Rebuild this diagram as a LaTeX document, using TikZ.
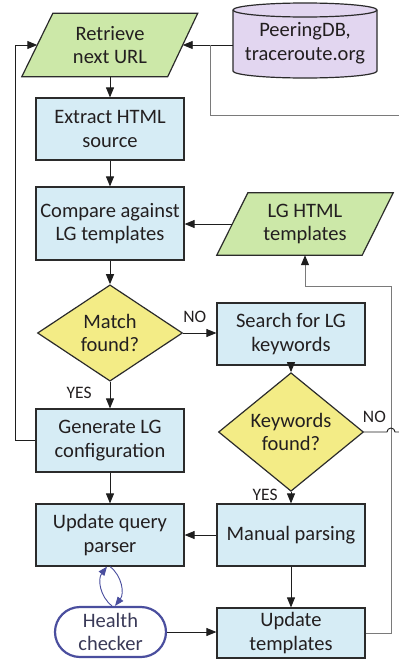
\documentclass[tikz,border=0pt]{standalone}
\usepackage{fontspec}
\setmainfont{Carlito}
\usetikzlibrary{shapes.geometric,arrows.meta,backgrounds}
\definecolor{boxblue}{HTML}{D6ECF5}
\definecolor{paragreen}{HTML}{CCE8A8}
\definecolor{decyellow}{HTML}{F3EC86}
\definecolor{dblilac}{HTML}{E2D6F0}
\definecolor{edge}{HTML}{2B2B2B}
\definecolor{wire}{HTML}{1E1E1E}
\definecolor{greywire}{HTML}{7A7A7A}
\definecolor{hcblue}{HTML}{4A4E9E}
\definecolor{hctext}{HTML}{3A3A58}
\definecolor{txt}{HTML}{231F20}

\begin{document}
\begin{tikzpicture}[x=1pt,y=-1pt,
  every node/.style={font=\fontsize{20.5}{23.5}\selectfont, text=txt, align=center},
  procbox/.style={draw=edge, line width=1.2pt, fill=boxblue, minimum width=148pt,
    minimum height=62pt, inner sep=0pt},
  iobox/.style={minimum width=145pt, minimum height=63pt, inner sep=0pt},
  iofill/.style={draw=edge, line width=1.2pt, fill=paragreen},
  decision/.style={diamond, draw=edge, line width=1.2pt, fill=decyellow,
    minimum width=145pt, minimum height=91pt, inner sep=0pt},
  tip/.style={-{Triangle[length=10pt,width=8pt,color=wire]}},
  flow/.style={draw=wire, line width=0.9pt, tip},
  link/.style={draw=wire, line width=0.9pt},
  greylink/.style={draw=greywire, line width=0.9pt},
  tag/.style={font=\fontsize{17.5}{19}\selectfont, inner sep=0pt},
  loopflow/.style={draw=hcblue, line width=0.9pt,
    -{Triangle[length=9pt,width=7pt,color=hcblue]}},
  hcbox/.style={draw=hcblue, line width=2.2pt, fill=white, rounded corners=25pt,
    minimum width=111pt, minimum height=50pt, inner sep=0pt, text=hctext}
]
\useasboundingbox (0,0) rectangle (399,659);

% ---- nodes ----
\node[iobox] (ret) at (110,45) {Retrieve\\next URL};
\node[minimum width=144pt, minimum height=75pt, inner sep=0pt] (db) at (305,43) {PeeringDB,\\traceroute.org};
\node[procbox] (ext) at (110,129) {Extract HTML\\source};
\node[procbox, minimum height=73pt] (cmp) at (110,223.5) {Compare against\\LG templates};
\node[iobox, minimum height=62pt] (lgt) at (305,224) {LG HTML\\templates};
\node[decision] (mat) at (110,333) {Match\\found?};
\node[procbox] (srch) at (291,334) {Search for LG\\keywords};
\node[decision] (kw) at (291,432) {Keywords\\found?};
\node[procbox, minimum height=63pt] (gen) at (110,440.5) {Generate LG\\configuration};
\node[procbox] (upq) at (110,535) {Update query\\parser};
\node[procbox] (man) at (291,535) {Manual parsing};
\node[hcbox] (hc) at (110.5,632) {Health\\checker};
\node[procbox, minimum height=50pt] (upt) at (291,633) {Update\\templates};

% ---- parallelogram and cylinder outlines behind the text ----
\begin{pgfonlayer}{background}
  \filldraw[iofill] ([xshift=15.5pt]ret.north west) -- ([xshift=15pt]ret.north east)
    -- ([xshift=-15pt]ret.south east) -- ([xshift=-15.5pt]ret.south west) -- cycle;
  \filldraw[iofill] ([xshift=15.5pt]lgt.north west) -- ([xshift=15.5pt]lgt.north east)
    -- ([xshift=-15.5pt]lgt.south east) -- ([xshift=-15.5pt]lgt.south west) -- cycle;
  \filldraw[draw=edge, line width=1.2pt, fill=dblilac]
    (233,10) -- (233,71) arc[start angle=180,end angle=360,x radius=72pt,y radius=7pt]
    -- (377,10) arc[start angle=0,end angle=180,x radius=72pt,y radius=7pt] -- cycle;
  \draw[draw=edge, line width=1.2pt]
    (233,10) arc[start angle=180,end angle=360,x radius=72pt,y radius=7pt];
\end{pgfonlayer}

% ---- free ends at the right margin ----
\coordinate (netin) at (399,115);
\coordinate (kwexit) at (399,432);

% ---- connectors ----
\draw[flow] (ret) -- (ext);
\draw[flow] (ext) -- (cmp);
\draw[flow] (cmp) -- (mat);
\draw[flow] (mat) -- node[tag, pos=0.41, left=18pt] {YES} (gen);
\draw[flow] (mat.east) -- node[tag, pos=0.35, above=10pt] {NO} (mat.east -| srch.west);
\draw[flow] (srch) -- (kw);
\draw[flow] (kw) -- node[tag, pos=0.24, left=13pt] {YES} (man);
\draw[flow] (gen) -- (upq);
\draw[flow] (man) -- (upq);
\draw[flow] (man) -- (upt);
\draw[flow] (hc.east) -- (hc.east -| upt.west);
\draw[flow] (lgt.west) -- (lgt.west -| cmp.east);
\draw[flow] (ret.east -| db.west) -- (ret.east);
\draw[flow] (gen.west) -- (15,440.5) -- (15,45) -- (ret.west);
\draw[greylink] (netin) -- (210,115) -- (210,45);
\draw[greylink, tip] (upt.east) -- (391,633) -- (391,286) -- (305,286) -- (lgt.south);
\draw[link] (kw.east) -- node[tag, pos=0.45, above=9pt] {NO} (387,432)
  arc[start angle=180,end angle=0,radius=4pt] -- (kwexit);

% ---- health checker exchange with the query parser ----
\draw[loopflow] ([xshift=1.5pt]hc.north) to[bend left=45] ([xshift=-3pt]upq.south);
\draw[loopflow] (upq.south) to[bend left=45] ([xshift=4.5pt]hc.north);
\end{tikzpicture}
\end{document}
